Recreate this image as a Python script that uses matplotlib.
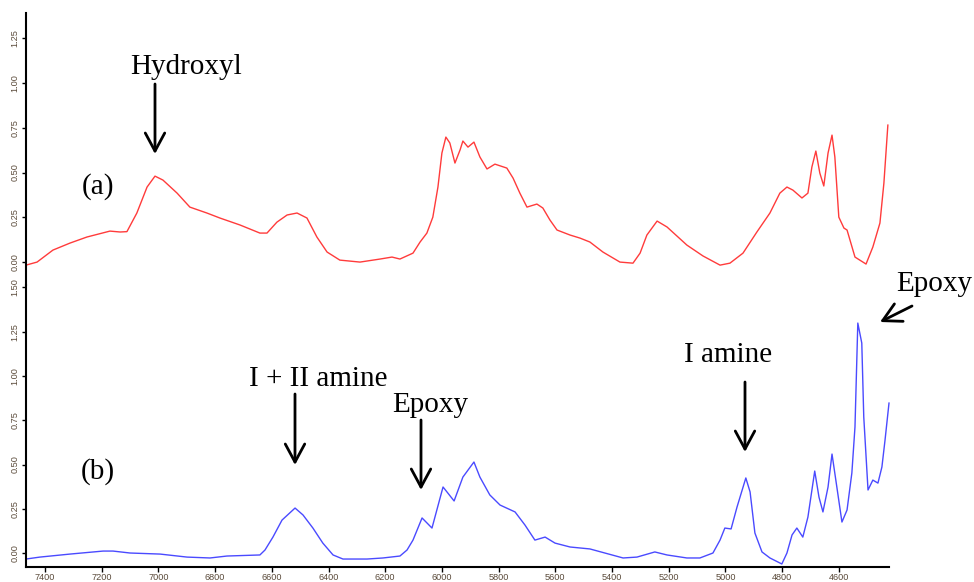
import matplotlib
matplotlib.use("Agg")
import matplotlib.pyplot as plt
import numpy as np

# ---- data (wavenumber cm-1, absorbance) ----
wn_a = [7467, 7428, 7372, 7312, 7252, 7171, 7135, 7111, 7076, 7040, 7012, 6984, 6934,
        6889, 6829, 6783, 6712, 6642, 6617, 6582, 6546, 6511, 6476, 6441, 6405, 6360,
        6289, 6218, 6176, 6148, 6102, 6077, 6053, 6032, 6014, 6000, 5986, 5972, 5954,
        5936, 5926, 5908, 5887, 5866, 5841, 5813, 5771, 5749, 5725, 5700, 5665, 5644,
        5619, 5594, 5548, 5513, 5478, 5432, 5372, 5326, 5301, 5277, 5241, 5206, 5136,
        5079, 5019, 4984, 4938, 4889, 4843, 4808, 4783, 4762, 4730, 4709, 4695, 4681,
        4667, 4653, 4638, 4624, 4614, 4600, 4582, 4571, 4543, 4504, 4480, 4455, 4441,
        4427]
abs_a = [-0.017, 0.0, 0.067, 0.106, 0.140, 0.173, 0.168, 0.170, 0.274, 0.419, 0.480,
         0.458, 0.385, 0.307, 0.274, 0.246, 0.207, 0.162, 0.162, 0.223, 0.263, 0.274,
         0.246, 0.140, 0.056, 0.011, 0.0, 0.017, 0.028, 0.017, 0.050, 0.112, 0.162,
         0.251, 0.419, 0.609, 0.698, 0.665, 0.553, 0.626, 0.676, 0.642, 0.670, 0.587,
         0.520, 0.547, 0.525, 0.469, 0.385, 0.307, 0.324, 0.302, 0.235, 0.179, 0.151,
         0.134, 0.112, 0.056, 0.0, -0.006, 0.050, 0.151, 0.229, 0.196, 0.095, 0.034,
         -0.017, -0.006, 0.050, 0.168, 0.274, 0.385, 0.419, 0.402, 0.358, 0.385, 0.531,
         0.620, 0.497, 0.425, 0.609, 0.709, 0.587, 0.251, 0.190, 0.179, 0.028, -0.011,
         0.084, 0.218, 0.441, 0.765]

wn_b = [7467, 7418, 7312, 7195, 7160, 7100, 6994, 6899, 6818, 6758, 6642, 6624, 6596,
        6564, 6518, 6490, 6455, 6420, 6384, 6349, 6264, 6208, 6148, 6123, 6102, 6070,
        6035, 5996, 5957, 5926, 5887, 5866, 5831, 5795, 5742, 5707, 5672, 5636, 5601,
        5548, 5478, 5361, 5312, 5249, 5206, 5136, 5090, 5044, 5019, 5002, 4980, 4959,
        4928, 4913, 4896, 4871, 4843, 4801, 4783, 4765, 4748, 4727, 4709, 4685, 4670,
        4656, 4638, 4624, 4607, 4589, 4571, 4554, 4543, 4533, 4519, 4512, 4497, 4480,
        4462, 4448, 4437, 4423]
abs_b = [-0.034, -0.023, -0.006, 0.011, 0.011, 0.0, -0.006, -0.023, -0.028, -0.017,
         -0.011, 0.017, 0.090, 0.186, 0.254, 0.215, 0.141, 0.056, -0.011, -0.034,
         -0.034, -0.028, -0.017, 0.017, 0.073, 0.198, 0.141, 0.373, 0.294, 0.429, 0.514,
         0.429, 0.328, 0.271, 0.232, 0.158, 0.073, 0.090, 0.056, 0.034, 0.023, -0.028,
         -0.023, 0.006, -0.011, -0.028, -0.028, 0.0, 0.073, 0.141, 0.136, 0.260, 0.424,
         0.345, 0.113, 0.006, -0.028, -0.062, 0.0, 0.102, 0.141, 0.090, 0.203, 0.463,
         0.316, 0.232, 0.373, 0.559, 0.373, 0.175, 0.243, 0.452, 0.712, 1.299, 1.186,
         0.768, 0.356, 0.412, 0.395, 0.486, 0.638, 0.847]

x_ticks = [7400, 7200, 7000, 6800, 6600, 6400, 6200, 6000, 5800, 5600, 5400, 5200, 5000, 4800, 4600]
y_ticks_a = [0.00, 0.25, 0.50, 0.75, 1.00, 1.25]
y_ticks_b = [0.00, 0.25, 0.50, 0.75, 1.00, 1.25, 1.50]

labels = ["Hydroxyl", "(a)", "(b)", "I + II amine", "Epoxy", "I amine", "Epoxy"]

W, H = 974, 582
fig = plt.figure(figsize=(W / 100, H / 100), dpi=100)

def px_rect(x0, y0, x1, y1):
    return [x0 / W, 1 - y1 / H, (x1 - x0) / W, (y1 - y0) / H]

ax1 = fig.add_axes(px_rect(26, 13, 889, 285))
ax2 = fig.add_axes(px_rect(26, 285, 889, 567))

tick_color = "#5a4a3a"
tick_font = dict(family="Liberation Sans", size=6.6)

for ax in (ax1, ax2):
    ax.set_xlim(7467, 4423)
    for s in ("top", "right"):
        ax.spines[s].set_visible(False)
    ax.spines["left"].set_linewidth(1.5)
    ax.tick_params(axis="y", direction="out", length=3, width=1, pad=1.5,
                   labelcolor=tick_color, labelsize=6.6)
    ax.set_facecolor("none")

ax1.plot(wn_a, abs_a, color="#ff3b3b", lw=1.0, clip_on=False)
ax1.set_ylim(-0.128, 1.391)
ax1.set_yticks(y_ticks_a)
ax1.set_yticklabels([f"{v:.2f}" for v in y_ticks_a], rotation=90, va="center",
                    fontdict=tick_font, color=tick_color)
ax1.spines["bottom"].set_visible(False)
ax1.set_xticks([])

ax2.plot(wn_b, abs_b, color="#4a4aff", lw=1.0, clip_on=False)
ax2.set_ylim(-0.079, 1.514)
ax2.set_yticks(y_ticks_b)
ax2.set_yticklabels([f"{v:.2f}" for v in y_ticks_b], rotation=90, va="center",
                    fontdict=tick_font, color=tick_color)
ax2.spines["bottom"].set_linewidth(1.5)
ax2.set_xticks(x_ticks)
ax2.set_xticklabels([str(v) for v in x_ticks], fontdict=tick_font, color=tick_color)
ax2.tick_params(axis="x", direction="out", length=3.5, width=1, pad=0.5)

# ---- annotations (figure pixel positions, y measured from top) ----
serif = dict(family="Liberation Serif", size=21, color="black")

def ftext(s, x, y, va="baseline"):
    fig.text(x / W, 1 - y / H, s, ha="center", va=va, **serif)

def farrow(x0, y0, x1, y1):
    fig.add_artist(matplotlib.patches.FancyArrowPatch(
        (x0 / W, 1 - y0 / H), (x1 / W, 1 - y1 / H), transform=fig.transFigure,
        arrowstyle="->,head_length=1.3,head_width=0.7", mutation_scale=10,
        lw=2.0, color="black", shrinkA=0, shrinkB=0))

ftext(labels[0], 186, 74)
farrow(155, 84, 155, 154)
ftext(labels[1], 98, 187, va="center")
ftext(labels[2], 98, 472, va="center")
ftext(labels[3], 318, 386)
farrow(295, 394, 295, 465)
ftext(labels[4], 430, 412)
farrow(421, 420, 421, 490)
ftext(labels[5], 728, 362)
farrow(745, 382, 745, 452)
ftext(labels[6], 934, 291)
farrow(912, 306, 880, 322)

fig.savefig("out.png", dpi=100)
